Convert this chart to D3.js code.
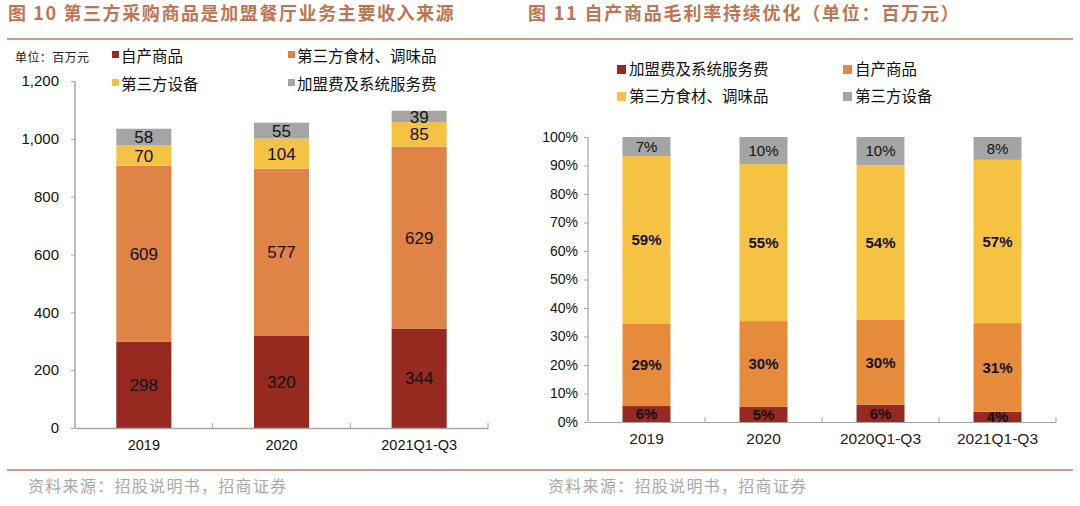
<!DOCTYPE html>
<html><head><meta charset="utf-8">
<script src="https://cdn.jsdelivr.net/npm/d3@7"></script>
<style>
body{margin:0;background:#fff;}
svg{display:block;}
text{font-family:"Liberation Sans",Arial,sans-serif;}
.cjk{font-family:"Noto Sans CJK SC","Noto Sans",sans-serif;}
</style></head>
<body><svg id="c" width="1080" height="506"></svg>
<script>
// ---- Left chart data (百万元) ----
const leftCats = ["2019", "2020", "2021Q1-Q3"];
const leftSeries = ["自产商品", "第三方食材、调味品", "第三方设备", "加盟费及系统服务费"];
const selfMade = [298, 320, 344];
const thirdFood = [609, 577, 629];
const thirdEquip = [70, 104, 85];
const franchiseFee = [58, 55, 39];
const leftTicks = [0, 200, 400, 600, 800, 1000, 1200];

// ---- Right chart data (%) ----
const rightCats = ["2019", "2020", "2020Q1-Q3", "2021Q1-Q3"];
const rightSeries = ["加盟费及系统服务费", "自产商品", "第三方食材、调味品", "第三方设备"];
const rFee = [5.6, 5.3, 6.1, 3.6];
const rSelf = [28.8, 30.1, 29.7, 31.1];
const rFood = [58.9, 55.1, 54.4, 57.3];
const rEquip = [6.7, 9.5, 9.8, 8.0];
const rLabelFee = [6, 5, 6, 4];
const rLabelSelf = [29, 30, 30, 31];
const rLabelFood = [59, 55, 54, 57];
const rLabelEquip = [7, 10, 10, 8];
const rightTicks = [0, 10, 20, 30, 40, 50, 60, 70, 80, 90, 100];

const C_RED = "#962A21", C_ORG_L = "#DF8446", C_ORG_R = "#E68A3C", C_YEL = "#F5C244", C_GRY = "#A5A5A5";
const AX = "#A6A6A6";
const svg = d3.select("#c");

// ---- headers & footers ----
const titleColor = "#C27451";
svg.append("text").attr("class","cjk").attr("x",8).attr("y",20).attr("font-size",18).attr("font-weight",700)
  .attr("letter-spacing",1.6).attr("fill",titleColor).text("图 10 第三方采购商品是加盟餐厅业务主要收入来源");
svg.append("text").attr("class","cjk").attr("x",528).attr("y",20).attr("font-size",18).attr("font-weight",700)
  .attr("letter-spacing",1.8).attr("fill",titleColor).text("图 11 自产商品毛利率持续优化（单位：百万元）");
svg.append("line").attr("x1",7).attr("x2",1073).attr("y1",39).attr("y2",39).attr("stroke","#D39A86").attr("stroke-width",2);
svg.append("line").attr("x1",7).attr("x2",1073).attr("y1",470).attr("y2",470).attr("stroke","#D39A86").attr("stroke-width",2);
svg.append("text").attr("class","cjk").attr("x",28).attr("y",492).attr("font-size",16).attr("letter-spacing",1.3).attr("fill","#A8A8A8").text("资料来源：招股说明书，招商证券");
svg.append("text").attr("class","cjk").attr("x",548).attr("y",492).attr("font-size",16).attr("letter-spacing",1.3).attr("fill","#A8A8A8").text("资料来源：招股说明书，招商证券");

// ---- Left chart ----
{
  const x = d3.scaleBand().domain(leftCats).range([75, 488]).paddingInner(0.6).paddingOuter(0.3);
  const y = d3.scaleLinear().domain([0, 1200]).range([428, 81]);
  const rows = leftCats.map((c,i)=>({cat:c, "自产商品":selfMade[i], "第三方食材、调味品":thirdFood[i], "第三方设备":thirdEquip[i], "加盟费及系统服务费":franchiseFee[i]}));
  const stack = d3.stack().keys(leftSeries)(rows);
  const colors = [C_RED, C_ORG_L, C_YEL, C_GRY];
  const g = svg.append("g");
  stack.forEach((s,k)=>{
    g.selectAll(null).data(s).enter().append("rect")
      .attr("x",d=>x(d.data.cat)).attr("width",x.bandwidth())
      .attr("y",d=>y(d[1])).attr("height",d=>y(d[0])-y(d[1])).attr("fill",colors[k]);
    g.selectAll(null).data(s).enter().append("text")
      .attr("x",d=>x(d.data.cat)+x.bandwidth()/2).attr("y",d=>(y(d[0])+y(d[1]))/2)
      .attr("dy","0.36em").attr("text-anchor","middle").attr("font-size",17)
      .attr("font-family","Lato, 'Open Sans', sans-serif").attr("fill","#111")
      .text(d=>d[1]-d[0]);
  });
  // y axis
  const ya = svg.append("g").attr("transform","translate(75,0)")
    .call(d3.axisLeft(y).tickValues(leftTicks).tickSize(4).tickFormat(d3.format(",")));
  ya.select(".domain").attr("stroke",AX).attr("stroke-width",1.5).attr("d","M0,81V428");
  ya.selectAll(".tick line").attr("stroke",AX);
  ya.selectAll(".tick text").attr("font-size",15).attr("fill","#111").attr("x",-16).attr("font-family","'Liberation Sans',Arial,sans-serif");
  // x axis
  const xa = svg.append("g").attr("transform","translate(0,428)")
    .call(d3.axisBottom(x).tickSize(0).tickPadding(12));
  xa.select(".domain").attr("stroke",AX).attr("stroke-width",1.5);
  xa.selectAll(".tick text").attr("font-size",14.5).attr("fill","#111").attr("font-family","'Liberation Sans',Arial,sans-serif");
  const bounds = leftCats.map(c=>x(c)-x.step()*x.paddingInner()/2).slice(1).concat([488]);
  xa.selectAll(null).data(bounds).enter().append("line").attr("x1",d=>d).attr("x2",d=>d).attr("y1",0).attr("y2",-5).attr("stroke",AX);
  // legend
  svg.append("text").attr("class","cjk").attr("x",15).attr("y",62).attr("font-size",12).attr("letter-spacing",0.4).attr("fill","#222").text("单位：百万元");
  const lpos = [[112,56],[288,56],[112,84],[288,84]];
  leftSeries.forEach((s,i)=>{
    svg.append("rect").attr("x",lpos[i][0]).attr("y",lpos[i][1]-5).attr("width",7).attr("height",7).attr("fill",colors[i]);
    svg.append("text").attr("class","cjk").attr("x",lpos[i][0]+9).attr("y",lpos[i][1]).attr("dy","0.36em").attr("font-size",15.5).attr("fill","#111").text(s);
  });
}

// ---- Right chart ----
{
  const x = d3.scaleBand().domain(rightCats).range([588, 1056]).paddingInner(0.59).paddingOuter(0.295);
  const y = d3.scaleLinear().domain([0, 100]).range([422, 137]);
  const rows = rightCats.map((c,i)=>({cat:c, "加盟费及系统服务费":rFee[i], "自产商品":rSelf[i], "第三方食材、调味品":rFood[i], "第三方设备":rEquip[i]}));
  const labels = [rLabelFee, rLabelSelf, rLabelFood, rLabelEquip];
  const stack = d3.stack().keys(rightSeries)(rows);
  const colors = [C_RED, C_ORG_R, C_YEL, C_GRY];
  const g = svg.append("g");
  stack.forEach((s,k)=>{
    g.selectAll(null).data(s).enter().append("rect")
      .attr("x",d=>x(d.data.cat)).attr("width",x.bandwidth())
      .attr("y",d=>y(d[1])).attr("height",d=>y(d[0])-y(d[1])).attr("fill",colors[k]);
    g.selectAll(null).data(s).enter().append("text")
      .attr("x",d=>x(d.data.cat)+x.bandwidth()/2).attr("y",d=>(y(d[0])+y(d[1]))/2)
      .attr("dy","0.36em").attr("text-anchor","middle").attr("font-size",15)
      .attr("font-weight",k===3?400:700).attr("fill","#111")
      .text((d,i)=>labels[k][i]+"%");
  });
  const ya = svg.append("g").attr("transform","translate(588,0)")
    .call(d3.axisLeft(y).tickValues(rightTicks).tickSize(4).tickFormat(d=>d+"%"));
  ya.select(".domain").attr("stroke",AX).attr("stroke-width",1.2).attr("d","M0,137V422");
  ya.selectAll(".tick line").attr("stroke",AX);
  ya.selectAll(".tick text").attr("font-size",14).attr("fill","#111").attr("x",-10);
  const xa = svg.append("g").attr("transform","translate(0,422)")
    .call(d3.axisBottom(x).tickSize(0).tickPadding(11));
  xa.select(".domain").attr("stroke",AX).attr("stroke-width",1.2);
  xa.selectAll(".tick text").attr("font-size",15.5).attr("fill","#222");
  const bounds = rightCats.map(c=>x(c)-x.step()*x.paddingInner()/2).slice(1).concat([1056]);
  xa.selectAll(null).data(bounds).enter().append("line").attr("x1",d=>d).attr("x2",d=>d).attr("y1",0).attr("y2",-5).attr("stroke",AX);
  const lpos = [[617,69],[843,69],[617,96],[843,96]];
  rightSeries.forEach((s,i)=>{
    svg.append("rect").attr("x",lpos[i][0]).attr("y",lpos[i][1]-4).attr("width",9).attr("height",9).attr("fill",colors[i]);
    svg.append("text").attr("class","cjk").attr("x",lpos[i][0]+12).attr("y",lpos[i][1]).attr("dy","0.36em").attr("font-size",15.5).attr("fill","#111").text(s);
  });
}
</script></body></html>
